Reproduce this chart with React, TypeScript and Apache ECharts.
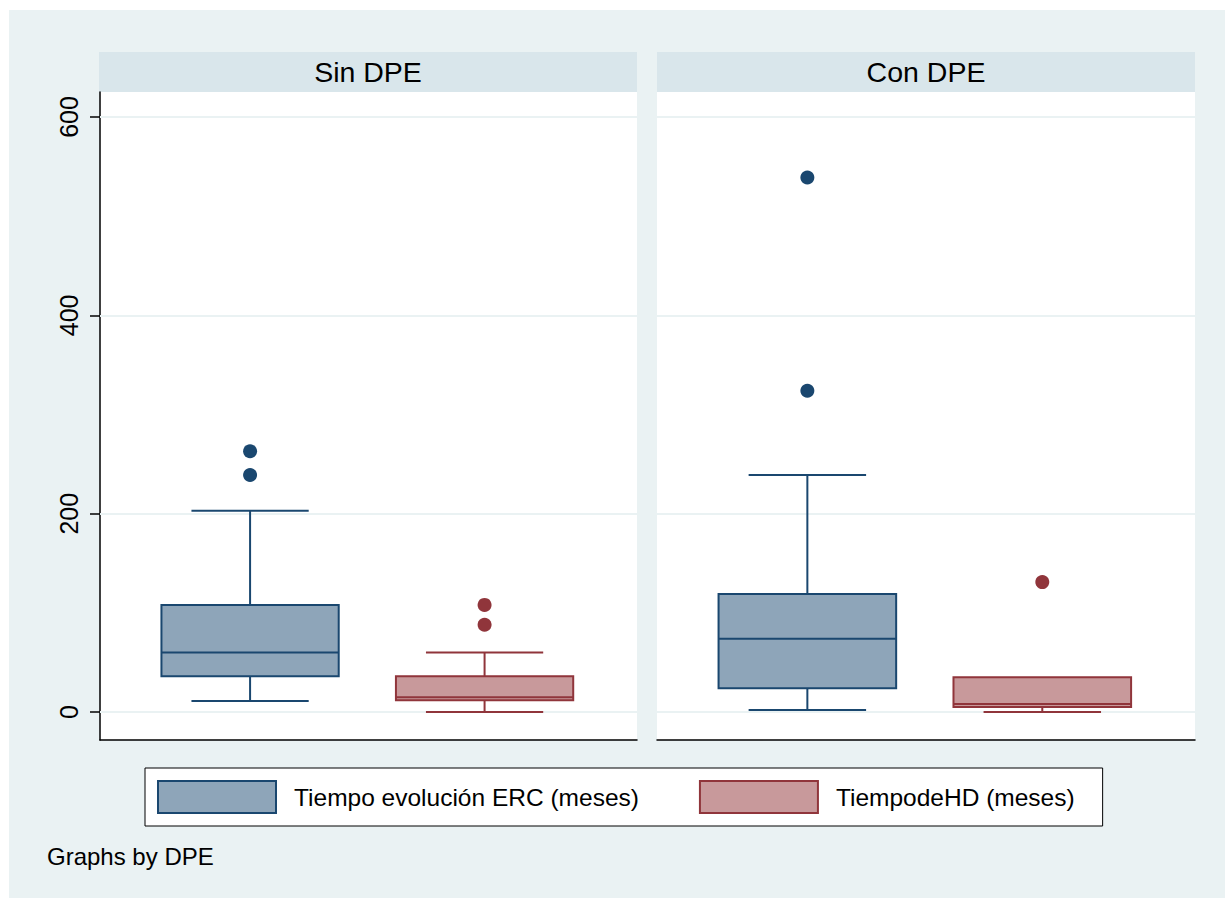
import React, { useEffect, useRef } from "react";
import * as echarts from "echarts";

// ---- data ----
const panelTitles = ["Sin DPE", "Con DPE"];
const seriesNames = ["Tiempo evolución ERC (meses)", "TiempodeHD (meses)"];
// [min whisker, Q1, median, Q3, max whisker]
const ercSin = [11, 36, 60, 108, 203];
const hdSin = [0, 12, 15, 36, 60];
const ercCon = [2, 24, 74, 119, 239];
const hdCon = [0, 5, 8, 35, 35];
const ercSinOutliers = [263, 239];
const hdSinOutliers = [108, 88];
const ercConOutliers = [539, 324];
const hdConOutliers = [131];
const yTicks = [0, 200, 400, 600];
const footnote = "Graphs by DPE";

// ---- styles ----
const OX = 9;
const OY = 10;
const FONT = "'Liberation Sans', Arial, Helvetica, sans-serif";
const BG = "#EAF2F3";
const STRIP = "#D9E6EB";
const ERC_FILL = "#8EA5B9";
const ERC_LINE = "#1A476F";
const HD_FILL = "#C8999B";
const HD_LINE = "#90353B";
const BOX_HALF = 0.378;
const CAP_HALF = 0.25;
const X_MIN = 0.36;
const X_MAX = 2.65;
const Y_MIN = -28.2;
const Y_MAX = 625.2;

const grids = [
  { left: 100 - OX, top: 92 - OY, width: 537, height: 648 },
  { left: 657 - OX, top: 92 - OY, width: 538, height: 648 },
];

function renderBox(fill: string, stroke: string) {
  return (params: any, api: any) => {
    const x = api.value(0);
    const mn = api.value(1);
    const q1 = api.value(2);
    const md = api.value(3);
    const q3 = api.value(4);
    const mx = api.value(5);
    const pMax = api.coord([x, mx]);
    const pQ3 = api.coord([x, q3]);
    const pMd = api.coord([x, md]);
    const pQ1 = api.coord([x, q1]);
    const pMin = api.coord([x, mn]);
    const bl = api.coord([x - BOX_HALF, q3])[0];
    const br = api.coord([x + BOX_HALF, q3])[0];
    const cl = api.coord([x - CAP_HALF, q3])[0];
    const cr = api.coord([x + CAP_HALF, q3])[0];
    const ls = { stroke, lineWidth: 2 };
    const children: any[] = [];
    if (pMax[1] < pQ3[1] - 0.5) {
      children.push({ type: "line", shape: { x1: pMax[0], y1: pMax[1], x2: pQ3[0], y2: pQ3[1] }, style: ls });
      children.push({ type: "line", shape: { x1: cl, y1: pMax[1], x2: cr, y2: pMax[1] }, style: ls });
    }
    children.push({ type: "line", shape: { x1: pQ1[0], y1: pQ1[1], x2: pMin[0], y2: pMin[1] }, style: ls });
    children.push({ type: "line", shape: { x1: cl, y1: pMin[1], x2: cr, y2: pMin[1] }, style: ls });
    children.push({
      type: "rect",
      shape: { x: bl, y: pQ3[1], width: br - bl, height: pQ1[1] - pQ3[1] },
      style: { fill, stroke, lineWidth: 2 },
    });
    children.push({ type: "line", shape: { x1: bl, y1: pMd[1], x2: br, y2: pMd[1] }, style: ls });
    return { type: "group", children };
  };
}

function boxSeries(name: string, gridIdx: number, pos: number, vals: number[], fill: string, stroke: string, withGrid: boolean) {
  const s: any = {
    name,
    type: "custom",
    xAxisIndex: gridIdx,
    yAxisIndex: gridIdx,
    z: 3,
    renderItem: renderBox(fill, stroke),
    encode: { x: 0, y: [1, 2, 3, 4, 5] },
    itemStyle: { color: fill, borderColor: stroke },
    data: [[pos, ...vals]],
  };
  if (withGrid) {
    s.markLine = {
      silent: true,
      z: 1,
      symbol: ["none", "none"],
      label: { show: false },
      lineStyle: { color: BG, width: 2, type: "solid" },
      emphasis: { disabled: true },
      data: yTicks.map((v) => ({ yAxis: v })),
    };
  }
  return s;
}

function outlierSeries(name: string, gridIdx: number, pos: number, vals: number[], color: string) {
  return {
    name,
    type: "scatter",
    xAxisIndex: gridIdx,
    yAxisIndex: gridIdx,
    z: 4,
    symbol: "circle",
    symbolSize: 14,
    itemStyle: { color, opacity: 1 },
    data: vals.map((v) => [pos, v]),
  };
}

export default function App() {
  const ref = useRef<HTMLDivElement>(null);
  useEffect(() => {
    if (!ref.current) return;
    const chart = echarts.init(ref.current, undefined, { renderer: "svg" });
    const option: any = {
      animation: false,
      backgroundColor: BG,
      textStyle: { fontFamily: FONT },
      grid: grids.map((g) => ({ ...g, show: true, backgroundColor: "#ffffff", borderWidth: 0 })),
      xAxis: grids.map((_, i) => ({
        type: "value",
        gridIndex: i,
        min: X_MIN,
        max: X_MAX,
        axisLine: { show: true, onZero: false, lineStyle: { color: "#000", width: 1.5 } },
        axisTick: { show: false },
        axisLabel: { show: false },
        splitLine: { show: false },
      })),
      yAxis: grids.map((_, i) => ({
        type: "value",
        gridIndex: i,
        min: Y_MIN,
        max: Y_MAX,
        axisLine: { show: i === 0, onZero: false, lineStyle: { color: "#000", width: 1.5 } },
        axisTick: { show: i === 0, length: 10, customValues: yTicks, lineStyle: { color: "#000", width: 1.5 } },
        axisLabel: {
          show: i === 0,
          customValues: yTicks,
          rotate: 90,
          margin: 19,
          fontSize: 25,
          color: "#000",
          fontFamily: FONT,
        },
        splitLine: { show: false },
      })),
      legend: {
        left: 145 - OX,
        top: 768 - OY,
        orient: "horizontal",
        selectedMode: false,
        backgroundColor: "#ffffff",
        borderColor: "#000",
        borderWidth: 1,
        borderRadius: 0,
        padding: [12, 28, 12, 12],
        itemWidth: 118,
        itemHeight: 32,
        itemGap: 60,
        icon: "rect",
        textStyle: { fontSize: 24.5, color: "#000", fontFamily: FONT, padding: [0, 0, 0, 13] },
        data: [
          { name: seriesNames[0], icon: "rect", itemStyle: { color: ERC_FILL, borderColor: ERC_LINE, borderWidth: 2 } },
          { name: seriesNames[1], icon: "rect", itemStyle: { color: HD_FILL, borderColor: HD_LINE, borderWidth: 2 } },
        ],
      },
      graphic: [
        {
          type: "rect",
          shape: { x: 99 - OX, y: 52 - OY, width: 538, height: 40 },
          style: { fill: STRIP },
          silent: true,
        },
        {
          type: "rect",
          shape: { x: 657 - OX, y: 52 - OY, width: 538, height: 40 },
          style: { fill: STRIP },
          silent: true,
        },
        {
          type: "text",
          x: 368 - OX,
          y: 72 - OY,
          style: { text: panelTitles[0], fontSize: 28.5, fontFamily: FONT, fill: "#000", textAlign: "center", textVerticalAlign: "middle" },
        },
        {
          type: "text",
          x: 926 - OX,
          y: 72 - OY,
          style: { text: panelTitles[1], fontSize: 28.5, fontFamily: FONT, fill: "#000", textAlign: "center", textVerticalAlign: "middle" },
        },
        {
          type: "text",
          x: 47 - OX,
          y: 856 - OY,
          style: { text: footnote, fontSize: 24, fontFamily: FONT, fill: "#000", textAlign: "left", textVerticalAlign: "middle" },
        },
      ],
      series: [
        boxSeries(seriesNames[0], 0, 1, ercSin, ERC_FILL, ERC_LINE, true),
        boxSeries(seriesNames[1], 0, 2, hdSin, HD_FILL, HD_LINE, false),
        boxSeries(seriesNames[0], 1, 1, ercCon, ERC_FILL, ERC_LINE, true),
        boxSeries(seriesNames[1], 1, 2, hdCon, HD_FILL, HD_LINE, false),
        outlierSeries(seriesNames[0], 0, 1, ercSinOutliers, ERC_LINE),
        outlierSeries(seriesNames[1], 0, 2, hdSinOutliers, HD_LINE),
        outlierSeries(seriesNames[0], 1, 1, ercConOutliers, ERC_LINE),
        outlierSeries(seriesNames[1], 1, 2, hdConOutliers, HD_LINE),
      ],
    };
    chart.setOption(option);
    return () => chart.dispose();
  }, []);
  return (
    <div
      ref={ref}
      style={{ position: "absolute", left: OX, top: OY, width: 1225 - OX, height: 898 - OY }}
    />
  );
}
